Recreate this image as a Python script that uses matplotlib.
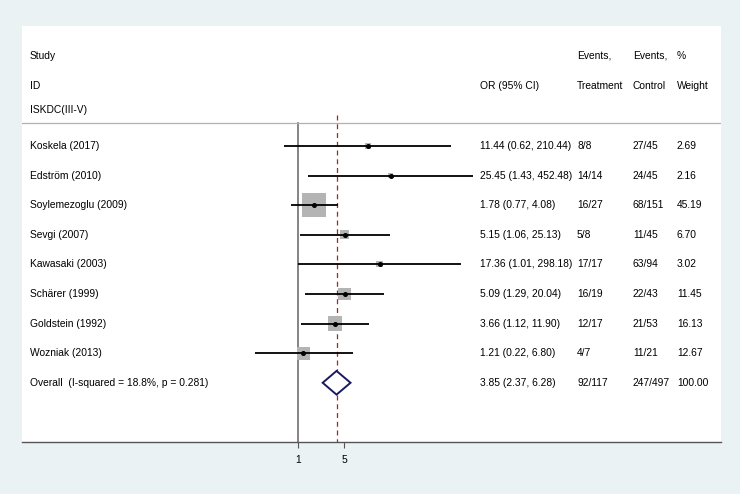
import numpy as np
import matplotlib.pyplot as plt
from matplotlib.patches import Polygon
import matplotlib.transforms as mtransforms

plt.rcParams['font.family'] = ['Liberation Sans', 'DejaVu Sans']

# Study data
studies = ['Koskela (2017)', 'Edström (2010)', 'Soylemezoglu (2009)', 'Sevgi (2007)',
           'Kawasaki (2003)', 'Schärer (1999)', 'Goldstein (1992)', 'Wozniak (2013)']
or_est = [11.44, 25.45, 1.78, 5.15, 17.36, 5.09, 3.66, 1.21]
ci_low = [0.62, 1.43, 0.77, 1.06, 1.01, 1.29, 1.12, 0.22]
ci_high = [210.44, 452.48, 4.08, 25.13, 298.18, 20.04, 11.90, 6.80]
ev_treat = ['8/8', '14/14', '16/27', '5/8', '17/17', '16/19', '12/17', '4/7']
ev_ctrl = ['27/45', '24/45', '68/151', '11/45', '63/94', '22/43', '21/53', '11/21']
weights = [2.69, 2.16, 45.19, 6.70, 3.02, 11.45, 16.13, 12.67]

overall_label = 'Overall  (I-squared = 18.8%, p = 0.281)'
overall_est, overall_lo, overall_hi = 3.85, 2.37, 6.28
overall_treat, overall_ctrl, overall_w = '92/117', '247/497', '100.00'

tick_vals = [1, 5]

bg = '#EAF2F3'
fs = 7.4

fig = plt.figure(figsize=(7.4, 4.94), dpi=100, facecolor=bg)
ax = fig.add_axes([22 / 740, 52 / 494, 699 / 740, 416 / 494], facecolor='white')

ax.set_xlim(-9.657, 14.8)
ax.set_ylim(10.0, -4.05)

n = len(studies)
rows = np.arange(n)
x_est = np.log(or_est)
x_lo = np.log(ci_low)
x_hi = np.log(ci_high)

# reference lines
ax.plot([0, 0], [-0.78, 10.0], color='#6e6e6e', lw=1.2, zorder=1)
ax.plot([np.log(overall_est)] * 2, [-1.05, 10.0], color='#a0282d', lw=0.9,
        ls=(0, (4, 3)), zorder=1)
ax.axhline(-0.78, color='#b0b0b0', lw=0.9, zorder=1)

# weight boxes
side_px = 24 * np.sqrt(np.array(weights) / max(weights))
ax.scatter(x_est, rows, s=(side_px * 0.72) ** 2, marker='s', color='#b4b4b4',
           edgecolors='none', zorder=2)
# CIs
ax.hlines(rows, x_lo, x_hi, color='black', lw=1.3, zorder=3)
ax.plot(x_est, rows, 'o', color='black', ms=2.6, zorder=4)

# overall diamond
yo = n
d = Polygon([[np.log(overall_lo), yo], [np.log(overall_est), yo - 0.4],
             [np.log(overall_hi), yo], [np.log(overall_est), yo + 0.4]],
            closed=True, facecolor='white', edgecolor='#1a1a5e', lw=1.4, zorder=4)
ax.add_patch(d)

# text columns
tr = mtransforms.blended_transform_factory(ax.transAxes, ax.transData)
col_study, col_or, col_t, col_c, col_w = 0.0114, 0.655, 0.794, 0.874, 0.937

ax.text(col_study, -3.04, 'Study', transform=tr, fontsize=fs, va='center')
ax.text(col_study, -2.03, 'ID', transform=tr, fontsize=fs, va='center')
ax.text(col_study, -1.22, 'ISKDC(III-V)', transform=tr, fontsize=fs, va='center')
ax.text(col_or, -2.03, 'OR (95% CI)', transform=tr, fontsize=fs, va='center')
ax.text(col_t, -3.04, 'Events,', transform=tr, fontsize=fs, va='center')
ax.text(col_t, -2.03, 'Treatment', transform=tr, fontsize=fs, va='center')
ax.text(col_c, -3.04, 'Events,', transform=tr, fontsize=fs, va='center')
ax.text(col_c, -2.03, 'Control', transform=tr, fontsize=fs, va='center')
ax.text(col_w, -3.04, '%', transform=tr, fontsize=fs, va='center')
ax.text(col_w, -2.03, 'Weight', transform=tr, fontsize=fs, va='center')

for i in range(n):
    ax.text(col_study, i, studies[i], transform=tr, fontsize=fs, va='center')
    ax.text(col_or, i, f'{or_est[i]:.2f} ({ci_low[i]:.2f}, {ci_high[i]:.2f})',
            transform=tr, fontsize=fs, va='center')
    ax.text(col_t, i, ev_treat[i], transform=tr, fontsize=fs, va='center')
    ax.text(col_c, i, ev_ctrl[i], transform=tr, fontsize=fs, va='center')
    ax.text(col_w, i, f'{weights[i]:.2f}', transform=tr, fontsize=fs, va='center')

ax.text(col_study, yo, overall_label, transform=tr, fontsize=fs, va='center')
ax.text(col_or, yo, f'{overall_est:.2f} ({overall_lo:.2f}, {overall_hi:.2f})',
        transform=tr, fontsize=fs, va='center')
ax.text(col_t, yo, overall_treat, transform=tr, fontsize=fs, va='center')
ax.text(col_c, yo, overall_ctrl, transform=tr, fontsize=fs, va='center')
ax.text(col_w, yo, overall_w, transform=tr, fontsize=fs, va='center')

# axes styling
for side in ['top', 'left', 'right']:
    ax.spines[side].set_visible(False)
ax.spines['bottom'].set_color('#555555')
ax.spines['bottom'].set_linewidth(1.0)
ax.set_yticks([])
ax.set_xticks(np.log(tick_vals))
ax.set_xticklabels([str(v) for v in tick_vals], fontsize=fs)
ax.tick_params(axis='x', length=4, width=0.8, color='#555555', pad=5)

fig.savefig('out.png', dpi=100, facecolor=bg)
